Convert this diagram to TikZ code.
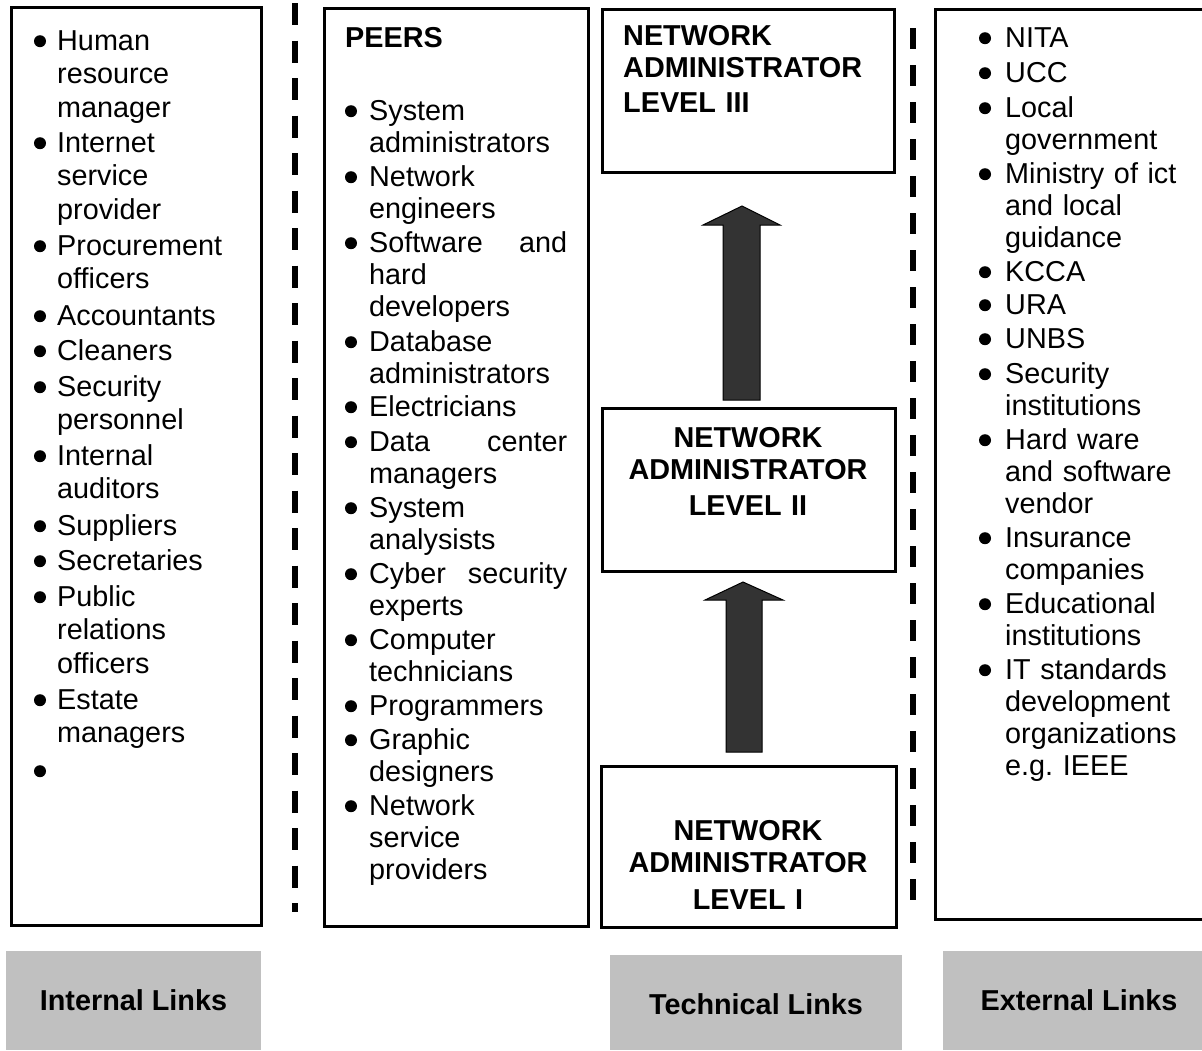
\documentclass[tikz,border=0pt]{standalone}
\usepackage{fontspec}
\setmainfont{Liberation Sans}
\frenchspacing
\definecolor{arrowgray}{HTML}{333333}
\definecolor{labelgray}{HTML}{C0C0C0}
\newcommand\itm[6]{\node[bul] (#1-b) at ([yshift=8.8pt]#2,#4) {}; \node[#5] (#1) at (#3,#4) {#6};}
\begin{document}
\begin{tikzpicture}[x=1pt,y=-1pt,
  frame/.style={draw, line width=3pt, inner sep=0, outer sep=0, anchor=north west},
  lbl/.style={fill=labelgray, inner sep=0, outer sep=0, anchor=north west, font=\bfseries\fontsize{28.8}{32}\selectfont},
  sep/.style={line width=5.5pt, dash pattern=on 22 off 15.5},
  blockarrow/.style={draw=black, line width=1pt, fill=arrowgray, line join=miter},
  bul/.style={circle, fill=black, inner sep=0, minimum size=12pt},
  lista/.style={anchor=base west, inner sep=0, text width=195, align=left, font=\fontsize{28.8}{33.7}\selectfont},
  listb/.style={anchor=base west, inner sep=0, text width=198, align=left, font=\fontsize{28.8}{32.3}\selectfont},
  listc/.style={anchor=base west, inner sep=0, text width=195, align=left, font=\fontsize{28.8}{32}\selectfont},
  title/.style={inner sep=0, text width=280, font=\bfseries\fontsize{28.8}{32.5}\selectfont}]
\useasboundingbox (0,0) rectangle (1202,1050);
\fill[white] (0,0) rectangle (1202,1050);

% frames
\node[frame, minimum width=249.5, minimum height=918] (internal) at (11.5,7) {};
\node[frame, minimum width=264, minimum height=917.5] (peers) at (324,8.5) {};
\node[frame, minimum width=292, minimum height=163] (lev3) at (602,9.5) {};
\node[frame, minimum width=293, minimum height=163] (lev2) at (602,408.5) {};
\node[frame, minimum width=295, minimum height=161] (lev1) at (601,766) {};
\node[frame, minimum width=272, minimum height=909.5] (external) at (935.5,9.5) {};

% dashed separators
\coordinate (s1a) at (295,3);
\coordinate (s1b) at (295,912);
\coordinate (s2a) at (913,28);
\coordinate (s2b) at (913,908);
\draw[sep] (s1a) -- (s1b);
\draw[sep, dash pattern=on 20.5 off 16.5] (s2a) -- (s2b);

% block arrows
\draw[blockarrow] (723,400) -- (723,225) -- (703,225) -- (742,206) -- (780,225) -- (760,225) -- (760,400) -- cycle;
\draw[blockarrow] (726,752) -- (726,600) -- (705,600) -- (743,582) -- (783,600) -- (762,600) -- (762,752) -- cycle;

% internal list
\itm{i1}{40}{57}{50}{lista}{Human\\resource\\manager}
\itm{i2}{40}{57}{152}{lista}{Internet\\service\\provider}
\itm{i3}{40}{57}{255}{lista}{Procurement\\officers}
\itm{i4}{40}{57}{325}{lista}{Accountants}
\itm{i5}{40}{57}{360}{lista}{Cleaners}
\itm{i6}{40}{57}{396}{lista}{Security\\personnel}
\itm{i7}{40}{57}{465}{lista}{Internal\\auditors}
\itm{i8}{40}{57}{535}{lista}{Suppliers}
\itm{i9}{40}{57}{570}{lista}{Secretaries}
\itm{i10}{40}{57}{606}{lista}{Public\\relations\\officers}
\itm{i11}{40}{57}{709}{lista}{Estate\\managers}
\node[bul] (i12-b) at ([yshift=8.8pt]40,780) {};

% peers list
\node[anchor=base west, inner sep=0, font=\bfseries\fontsize{28.8}{32}\selectfont] (peerstitle) at (345,47) {PEERS};
\itm{p1}{351}{369}{120}{listb}{System\\administrators}
\itm{p2}{351}{369}{186}{listb}{Network\\engineers}
\itm{p3}{351}{369}{252}{listb}{Software\hfill and\\hard\\developers}
\itm{p4}{351}{369}{351}{listb}{Database\\administrators}
\itm{p5}{351}{369}{416}{listb}{Electricians}
\itm{p6}{351}{369}{451}{listb}{Data\hfill center\\managers}
\itm{p7}{351}{369}{517}{listb}{System\\analysists}
\itm{p8}{351}{369}{583}{listb}{Cyber\hfill security\\experts}
\itm{p9}{351}{369}{649}{listb}{Computer\\technicians}
\itm{p10}{351}{369}{715}{listb}{Programmers}
\itm{p11}{351}{369}{749}{listb}{Graphic\\designers}
\itm{p12}{351}{369}{815}{listb}{Network\\service\\providers}

% technical boxes text
\node[title, anchor=base west, align=left] (t3) at (623,45) {NETWORK\\ADMINISTRATOR\\[2pt]LEVEL III};
\node[title, anchor=base, align=center] (t2) at (748,447) {NETWORK\\ADMINISTRATOR\\[3pt]LEVEL II};
\node[title, anchor=base, align=center] (t1) at (748,840) {NETWORK\\ADMINISTRATOR\\[4pt]LEVEL I};

% external list
\itm{e1}{985}{1005}{47}{listc}{NITA}
\itm{e2}{985}{1005}{82}{listc}{UCC}
\itm{e3}{985}{1005}{117}{listc}{Local\\government}
\itm{e4}{985}{1005}{183}{listc}{Ministry of ict\\and local\\guidance}
\itm{e5}{985}{1005}{281}{listc}{KCCA}
\itm{e6}{985}{1005}{314}{listc}{URA}
\itm{e7}{985}{1005}{348}{listc}{UNBS}
\itm{e8}{985}{1005}{383}{listc}{Security\\institutions}
\itm{e9}{985}{1005}{449}{listc}{Hard ware\\and software\\vendor}
\itm{e10}{985}{1005}{547}{listc}{Insurance\\companies}
\itm{e11}{985}{1005}{613}{listc}{Educational\\institutions}
\itm{e12}{985}{1005}{679}{listc}{IT standards\\development\\organizations\\e.g. IEEE}

% bottom labels
\node[lbl, minimum width=255, minimum height=99] (intlinks) at (6,951) {Internal Links};
\node[lbl, minimum width=292, minimum height=95, text height=24, text depth=0] (techlinks) at (610,955) {Technical Links};
\node[lbl, minimum width=272, minimum height=99] (extlinks) at (943,951) {External Links};
\end{tikzpicture}
\end{document}
